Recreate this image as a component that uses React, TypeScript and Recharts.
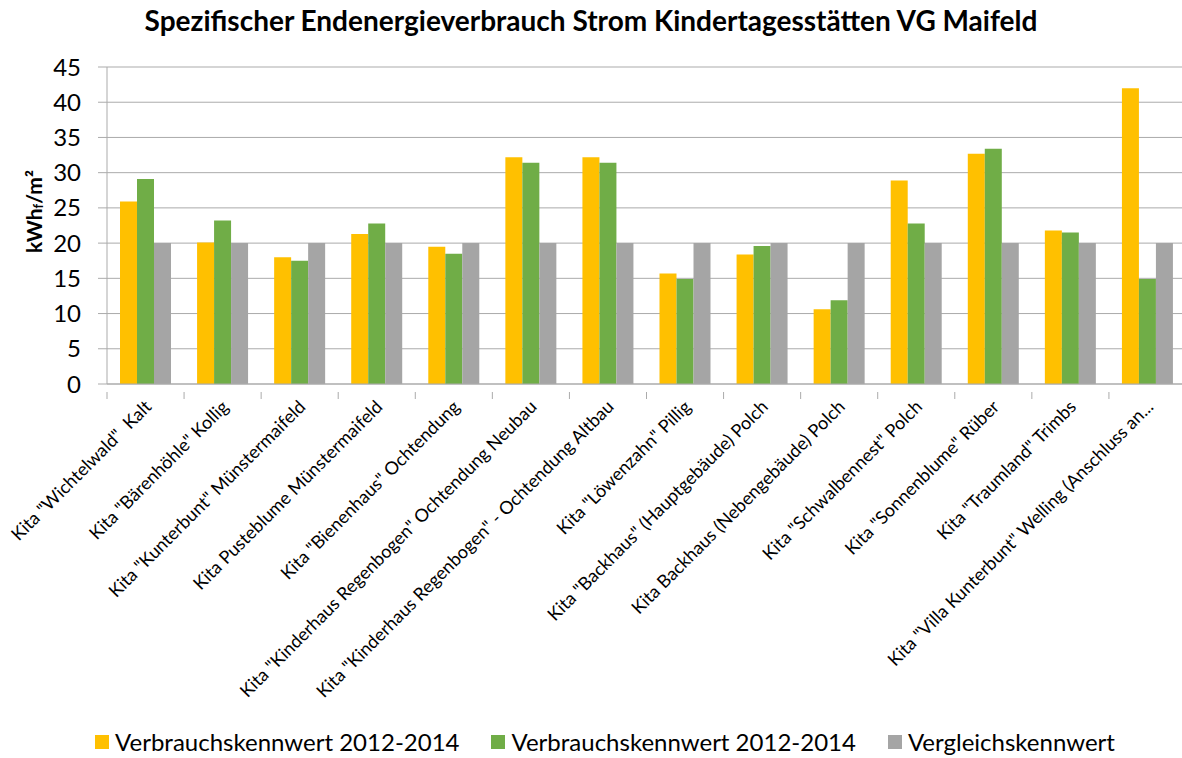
import React from "react";
import { BarChart, Bar, XAxis, YAxis, CartesianGrid, Legend } from "recharts";

const categories = [
  'Kita "Wichtelwald"  Kalt',
  'Kita "Bärenhöhle" Kollig',
  'Kita "Kunterbunt" Münstermaifeld',
  "Kita Pusteblume Münstermaifeld",
  'Kita "Bienenhaus" Ochtendung',
  'Kita "Kinderhaus Regenbogen" Ochtendung Neubau',
  'Kita "Kinderhaus Regenbogen" - Ochtendung Altbau',
  'Kita "Löwenzahn" Pillig',
  'Kita "Backhaus" (Hauptgebäude) Polch',
  "Kita Backhaus (Nebengebäude) Polch",
  'Kita "Schwalbennest" Polch',
  'Kita "Sonnenblume" Rüber',
  'Kita "Traumland" Trimbs',
  'Kita "Villa Kunterbunt" Welling (Anschluss an...',
];

const verbrauchA = [25.9, 20.1, 18.0, 21.3, 19.5, 32.2, 32.2, 15.7, 18.4, 10.6, 28.9, 32.7, 21.8, 42.0];
const verbrauchB = [29.1, 23.2, 17.5, 22.8, 18.5, 31.4, 31.4, 14.9, 19.6, 11.9, 22.8, 33.4, 21.5, 14.9];
const vergleich = [20, 20, 20, 20, 20, 20, 20, 20, 20, 20, 20, 20, 20, 20];

const yTicks = [0, 5, 10, 15, 20, 25, 30, 35, 40, 45];

const seriesNames = ["Verbrauchskennwert 2012-2014", "Verbrauchskennwert 2012-2014", "Vergleichskennwert"];
const seriesColors = ["#FFC000", "#70AD47", "#A5A5A5"];

const data = categories.map((name, i) => ({
  name,
  a: verbrauchA[i],
  b: verbrauchB[i],
  c: vergleich[i],
}));

const FONT = "Lato, 'Open Sans', sans-serif";
const CHART_W = 1186;
const Y_AXIS_W = 107;
const BAND = (CHART_W - Y_AXIS_W) / categories.length;
const GRID = "#ABABAB";

function CategoryTick(props: any) {
  const { x, y, payload } = props;
  return (
    <g transform={`translate(${x},${y})`}>
      <line x1={-BAND / 2} y1={0} x2={-BAND / 2} y2={7} stroke={GRID} />
      <text
        transform="translate(7,16) rotate(-45)"
        textAnchor="end"
        fontSize={18}
        fill="#000"
        fontFamily={FONT}
        style={{ whiteSpace: "pre" }}
      >
        {payload.value}
      </text>
    </g>
  );
}

function YLabel(props: any) {
  const { viewBox } = props;
  const cx = 33;
  const cy = viewBox.y + viewBox.height / 2 - 14;
  return (
    <text
      x={cx}
      y={cy}
      transform={`rotate(-90, ${cx}, ${cy})`}
      textAnchor="middle"
      dominantBaseline="central"
      fontSize={21}
      fontWeight="bold"
      fontFamily={FONT}
      fill="#000"
    >
      kWh
      <tspan fontSize={13} dy={5}>f</tspan>
      <tspan dy={-5}>/m²</tspan>
    </text>
  );
}

function LegendBox() {
  return (
    <div
      style={{
        display: "flex",
        justifyContent: "center",
        gap: 32,
        paddingLeft: 24,
        height: 28,
        fontFamily: FONT,
        fontSize: 24,
        lineHeight: "28px",
        color: "#000",
      }}
    >
      {seriesNames.map((n, i) => (
        <div key={i} style={{ display: "flex", alignItems: "center" }}>
          <span style={{ width: 14, height: 14, background: seriesColors[i], marginRight: 6, display: "inline-block" }} />
          <span>{n}</span>
        </div>
      ))}
    </div>
  );
}

export default function App() {
  return (
    <div style={{ position: "absolute", top: 0, left: 0, width: 1182, height: 758, overflow: "hidden", background: "#fff" }}>
      <div
        style={{
          position: "absolute",
          top: 3,
          left: 0,
          width: 1182,
          textAlign: "center",
          fontFamily: FONT,
          fontWeight: "bold",
          fontSize: 28,
          color: "#000",
          zIndex: 1,
        }}
      >
        Spezifischer Endenergieverbrauch Strom Kindertagesstätten VG Maifeld
      </div>
      <BarChart
        width={CHART_W}
        height={758}
        data={data}
        margin={{ top: 67, right: 0, bottom: 0, left: 0 }}
        barCategoryGap={13}
        barGap={0}
      >
        <CartesianGrid vertical={false} stroke={GRID} />
        <XAxis
          dataKey="name"
          interval={0}
          height={330}
          tickLine={false}
          axisLine={{ stroke: GRID }}
          tick={<CategoryTick />}
        />
        <YAxis
          width={Y_AXIS_W}
          domain={[0, 45]}
          ticks={yTicks}
          tickSize={9}
          tickMargin={17}
          tickLine={{ stroke: GRID }}
          axisLine={{ stroke: GRID }}
          tick={{ fontSize: 24, fill: "#000", fontFamily: FONT }}
          label={<YLabel />}
        />
        <Legend
          verticalAlign="bottom"
          height={44}
          wrapperStyle={{ top: 728, bottom: "auto", left: 0 }}
          content={() => <LegendBox />}
        />
        <Bar dataKey="a" name={seriesNames[0]} fill={seriesColors[0]} isAnimationActive={false} />
        <Bar dataKey="b" name={seriesNames[1]} fill={seriesColors[1]} isAnimationActive={false} />
        <Bar dataKey="c" name={seriesNames[2]} fill={seriesColors[2]} isAnimationActive={false} />
      </BarChart>
    </div>
  );
}
